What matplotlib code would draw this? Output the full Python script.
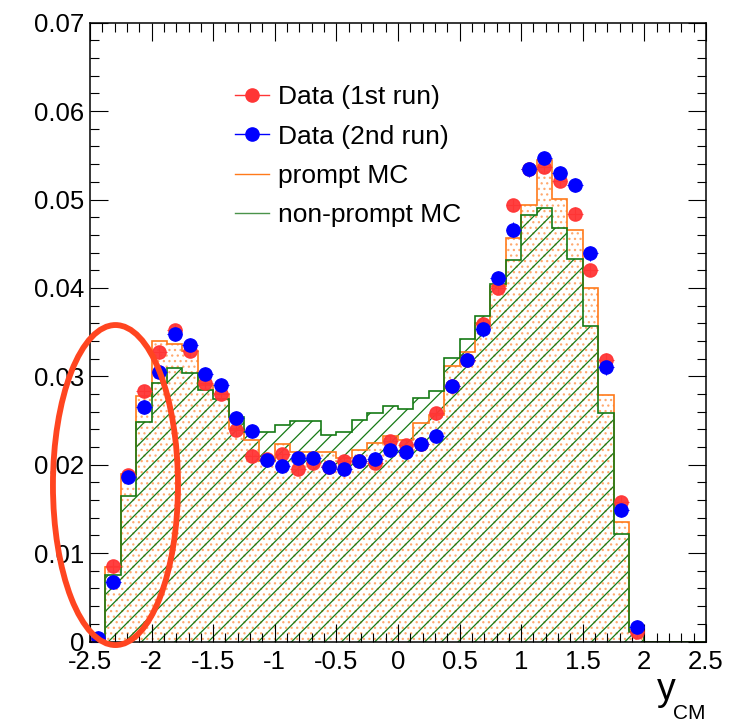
import numpy as np
import matplotlib
matplotlib.use('Agg')
import matplotlib.pyplot as plt
from matplotlib.lines import Line2D
from matplotlib.patches import Ellipse
from matplotlib.ticker import MultipleLocator, FuncFormatter

plt.rcParams['font.family'] = ['Liberation Sans', 'DejaVu Sans']
plt.rcParams['hatch.linewidth'] = 0.9

# 40 bins of width 0.125 between -2.5 and 2.5
edges = np.linspace(-2.5, 2.5, 41)
centers = 0.5 * (edges[:-1] + edges[1:])

prompt_mc = [0.0, 0.0084, 0.0190, 0.0278, 0.0340, 0.0337, 0.0329, 0.0290, 0.0280, 0.0240,
             0.0228, 0.0204, 0.0223, 0.0214, 0.0214, 0.0214, 0.0208, 0.0217, 0.0225, 0.0232,
             0.0228, 0.0247, 0.0256, 0.0312, 0.0328, 0.0360, 0.0402, 0.0457, 0.0494, 0.0545,
             0.0501, 0.0466, 0.0400, 0.0279, 0.0135, 0.0013, 0.0, 0.0, 0.0, 0.0]
nonprompt_mc = [0.0, 0.0075, 0.0165, 0.0248, 0.0292, 0.0309, 0.0304, 0.0284, 0.0274, 0.0254,
                0.0237, 0.0237, 0.0245, 0.0249, 0.0249, 0.0234, 0.0237, 0.0251, 0.0258, 0.0266,
                0.0263, 0.0275, 0.0283, 0.0321, 0.0342, 0.0368, 0.0404, 0.0432, 0.0482, 0.0490,
                0.0468, 0.0433, 0.0357, 0.0259, 0.0122, 0.0011, 0.0, 0.0, 0.0, 0.0]
# data points, bins 0..35 (empty above y=2)
data_run1 = [0.0003, 0.0085, 0.0188, 0.0283, 0.0327, 0.0352, 0.0329, 0.0292, 0.0280, 0.0239,
             0.0210, 0.0206, 0.0212, 0.0195, 0.0202, 0.0197, 0.0204, 0.0204, 0.0202, 0.0227,
             0.0222, 0.0223, 0.0258, 0.0289, 0.0318, 0.0359, 0.0400, 0.0494, 0.0534, 0.0537,
             0.0521, 0.0484, 0.0420, 0.0319, 0.0158, 0.0011]
data_run2 = [0.0004, 0.0067, 0.0186, 0.0265, 0.0305, 0.0348, 0.0335, 0.0303, 0.0290, 0.0253,
             0.0238, 0.0205, 0.0199, 0.0208, 0.0208, 0.0197, 0.0195, 0.0204, 0.0206, 0.0217,
             0.0214, 0.0223, 0.0232, 0.0289, 0.0318, 0.0353, 0.0411, 0.0466, 0.0534, 0.0547,
             0.0530, 0.0516, 0.0439, 0.0310, 0.0149, 0.0016]
err_run1 = 0.0007
err_run2 = 0.0008

c_orange = '#ff7a1a'
c_green = '#157a15'
c_red = '#ff3535'
c_blue = '#0000ff'

fig = plt.figure(figsize=(7.46, 7.23), dpi=100)
ax = fig.add_axes([0.1206, 0.1127, 0.8257, 0.8559])

# prompt MC: dotted fill, non-prompt MC: hatched fill
ax.stairs(prompt_mc, edges, fill=True, facecolor='none', edgecolor='#ffaa70',
          hatch='...', linewidth=0)
ax.stairs(nonprompt_mc, edges, fill=True, facecolor='none', edgecolor=c_green,
          hatch='//', linewidth=0)
ax.stairs(prompt_mc, edges, color=c_orange, linewidth=1.2)
ax.stairs(nonprompt_mc, edges, color=c_green, linewidth=1.2)

n = len(data_run1)
ax.errorbar(centers[:n], data_run1, xerr=0.0625, yerr=err_run1, fmt='o', color=c_red,
            markersize=9.5, elinewidth=0.8, capsize=0, alpha=0.95)
ax.errorbar(centers[:n], data_run2, xerr=0.0625, yerr=err_run2, fmt='o', color=c_blue,
            markersize=9.5, elinewidth=0.8, capsize=0)

ax.set_xlim(-2.5, 2.5)
ax.set_ylim(0, 0.07)
ax.xaxis.set_major_locator(MultipleLocator(0.5))
ax.xaxis.set_minor_locator(MultipleLocator(0.1))
ax.yaxis.set_major_locator(MultipleLocator(0.01))
ax.yaxis.set_minor_locator(MultipleLocator(0.002))
fmt = FuncFormatter(lambda v, _: '0' if abs(v) < 1e-9 else f'{v:g}')
ax.xaxis.set_major_formatter(fmt)
ax.yaxis.set_major_formatter(fmt)
ax.tick_params(which='both', direction='in', top=True, right=True, width=0.8)
ax.tick_params(which='major', length=13, labelsize=18.5)
ax.tick_params(axis='x', which='major', pad=6)
ax.tick_params(axis='y', which='major', pad=4)
ax.tick_params(which='minor', length=6.5)
for s in ax.spines.values():
    s.set_linewidth(1.1)

handles = [
    Line2D([], [], color=c_red, marker='o', markersize=9.5, lw=1),
    Line2D([], [], color=c_blue, marker='o', markersize=9.5, lw=1),
    Line2D([], [], color=c_orange, lw=1),
    Line2D([], [], color='#4a934a', lw=1),
]
labels = ['Data (1st run)', 'Data (2nd run)', 'prompt MC', 'non-prompt MC']
ax.legend(handles, labels, loc='upper left', bbox_to_anchor=(0.235, 0.899),
          frameon=False, fontsize=19, handlelength=1.3, handletextpad=0.35,
          labelspacing=0.58, borderpad=0, borderaxespad=0)

# hand drawn marker around the low-y region
ax.add_patch(Ellipse((-2.293, 0.0177), 1.015, 0.0362, fill=False, edgecolor='#ff4520',
                     linewidth=4.2, clip_on=False, zorder=10))

fig.text(657 / 746, 1 - 700 / 723, 'y', fontsize=27, va='baseline', ha='left')
fig.text(673 / 746, 1 - 719 / 723, 'CM', fontsize=15, va='baseline', ha='left')

fig.savefig('out.png', dpi=100)
